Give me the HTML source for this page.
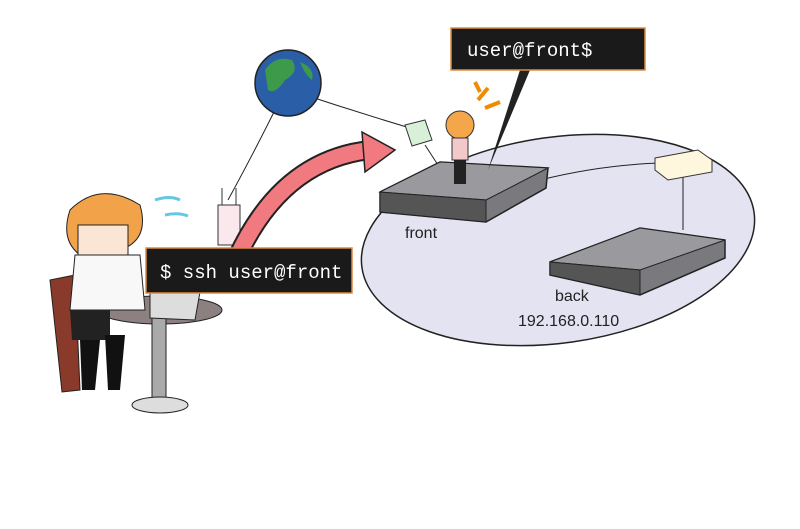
<!DOCTYPE html>
<html><head><meta charset="utf-8"><style>
html,body{margin:0;padding:0;background:#fff;}
svg{display:block;}
</style></head><body>
<svg width="800" height="529" viewBox="0 0 800 529" xmlns="http://www.w3.org/2000/svg">
<rect width="800" height="529" fill="#fff"/>
<!-- network ellipse -->
<ellipse cx="558" cy="240" rx="198" ry="103" transform="rotate(-8 558 240)" fill="#e3e3f1" stroke="#222" stroke-width="1.5"/>
<!-- cables -->
<path d="M290 90 Q350 110 410 128" stroke="#222" fill="none" stroke-width="1"/>
<path d="M275 110 Q250 160 228 200" stroke="#222" fill="none" stroke-width="1"/>
<path d="M425 145 L438 165" stroke="#222" fill="none" stroke-width="1"/>
<path d="M540 180 Q600 165 660 163" stroke="#222" fill="none" stroke-width="1"/>
<path d="M683 175 L683 230" stroke="#222" fill="none" stroke-width="1"/>
<!-- globe -->
<circle cx="288" cy="83" r="33" fill="#2a5fa8" stroke="#222" stroke-width="1.5"/>
<path d="M265 70 Q275 55 292 60 Q300 72 285 80 Q275 95 268 90 Z" fill="#3c9a4a"/>
<path d="M300 62 Q315 68 312 80 Q305 75 300 62Z" fill="#3c9a4a"/>
<!-- hub near globe -->
<path d="M405 125 L425 120 L432 140 L412 146 Z" fill="#d8f0d8" stroke="#333"/>
<!-- switch right -->
<path d="M655 158 L698 150 L712 160 L712 172 L668 180 L655 170 Z" fill="#fff6de" stroke="#333"/>
<!-- wifi router -->
<rect x="218" y="205" width="22" height="40" fill="#fbe8ec" stroke="#333"/>
<line x1="222" y1="205" x2="222" y2="188" stroke="#333"/>
<line x1="236" y1="205" x2="236" y2="188" stroke="#333"/>
<path d="M155 200 Q170 195 180 200" stroke="#66c8e0" stroke-width="3" fill="none"/>
<path d="M165 215 Q178 212 188 216" stroke="#66c8e0" stroke-width="3" fill="none"/>
<!-- front server -->
<path d="M380 192 L440 162 L548 168 L546 188 L486 222 L380 212 Z" fill="#7a7a7e" stroke="#222" stroke-width="1.5"/>
<path d="M380 192 L486 200 L548 168 L440 162 Z" fill="#9a9a9e" stroke="#222"/>
<path d="M380 192 L486 200 L486 222 L380 212 Z" fill="#555" stroke="#222"/>
<!-- back server -->
<path d="M550 262 L640 228 L725 240 L725 258 L640 295 L550 275 Z" fill="#7a7a7e" stroke="#222" stroke-width="1.5"/>
<path d="M550 262 L640 270 L725 240 L640 228 Z" fill="#9a9a9e" stroke="#222"/>
<path d="M550 262 L640 270 L640 295 L550 275 Z" fill="#555" stroke="#222"/>
<!-- small girl on server -->
<circle cx="460" cy="125" r="14" fill="#f4a74a" stroke="#333"/>
<rect x="452" y="138" width="16" height="22" fill="#f2c8c8" stroke="#333"/>
<rect x="454" y="160" width="12" height="24" fill="#222"/>
<path d="M478 100 L488 88 M485 108 L500 102 M480 92 L475 82" stroke="#f08a00" stroke-width="4"/>
<!-- pointer line -->
<path d="M488 170 L520 70 L530 70 Z" fill="#222"/>
<!-- pink arrow -->
<path d="M235 262 Q280 160 370 150" stroke="#222" stroke-width="20" fill="none"/>
<path d="M235 262 Q280 160 370 150" stroke="#f07a80" stroke-width="16" fill="none"/>
<path d="M362 132 L395 150 L365 172 Z" fill="#f07a80" stroke="#222" stroke-width="1.5"/>
<!-- girl at desk -->
<path d="M50 280 L75 275 L80 390 L62 392 Z" fill="#8a3a2a" stroke="#222"/>
<ellipse cx="160" cy="310" rx="62" ry="14" fill="#8c8080" stroke="#222"/>
<rect x="152" y="318" width="14" height="85" fill="#aaa" stroke="#222"/>
<ellipse cx="160" cy="405" rx="28" ry="8" fill="#ddd" stroke="#222"/>
<path d="M70 210 Q100 180 140 205 Q150 240 120 250 L80 255 Q60 240 70 210Z" fill="#f2a34a" stroke="#222"/>
<rect x="78" y="225" width="50" height="30" fill="#fbe6d6" stroke="#222"/>
<path d="M75 255 L140 255 L145 310 L70 310 Z" fill="#f8f8f8" stroke="#222"/>
<path d="M70 310 L110 310 L110 340 L72 340Z" fill="#222"/>
<path d="M80 340 L100 340 L95 390 L82 390Z" fill="#111"/>
<path d="M105 335 L125 335 L120 390 L108 390Z" fill="#111"/>
<path d="M150 290 L200 292 L195 320 L150 318Z" fill="#ddd" stroke="#222"/>
<!-- labels -->
<rect x="451" y="28" width="194" height="42" fill="#1a1a1a" stroke="#e08a40" stroke-width="1.5"/>
<text x="467" y="56" font-family="Liberation Mono, monospace" font-size="19" fill="#fff">user@front$</text>
<rect x="146" y="248" width="206" height="45" fill="#1a1a1a" stroke="#e08a40" stroke-width="1.5"/>
<text x="160" y="278" font-family="Liberation Mono, monospace" font-size="19" fill="#fff">$ ssh user@front</text>
<text x="405" y="238" font-family="Liberation Sans, sans-serif" font-size="16" fill="#222">front</text>
<text x="555" y="301" font-family="Liberation Sans, sans-serif" font-size="16" fill="#222">back</text>
<text x="518" y="326" font-family="Liberation Sans, sans-serif" font-size="16" fill="#222">192.168.0.110</text>
</svg>
</body></html>
